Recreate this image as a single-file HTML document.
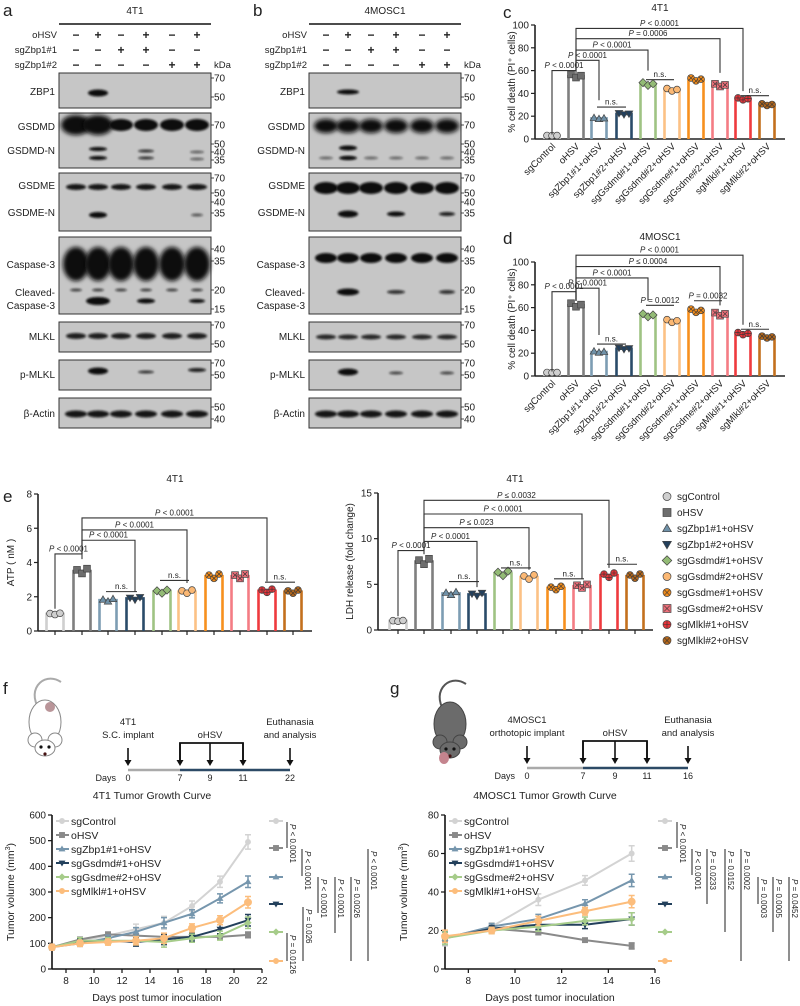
<!DOCTYPE html>
<html><head><meta charset="utf-8">
<style>
html,body{margin:0;padding:0;background:#fff;}
svg{display:block;font-family:"Liberation Sans",Arial,sans-serif;}
</style></head>
<body>
<svg id="fig" width="800" height="1006" viewBox="0 0 800 1006" xmlns="http://www.w3.org/2000/svg">
<defs>
<filter id="blur1" x="-50%" y="-100%" width="200%" height="300%"><feGaussianBlur stdDeviation="1.1"/></filter>
<filter id="blur2" x="-50%" y="-100%" width="200%" height="300%"><feGaussianBlur stdDeviation="2"/></filter>
</defs>
</svg>
<script>
// ===== bar chart data =====
const groupNames = ["sgControl","oHSV","sgZbp1#1+oHSV","sgZbp1#2+oHSV","sgGsdmd#1+oHSV","sgGsdmd#2+oHSV","sgGsdme#1+oHSV","sgGsdme#2+oHSV","sgMlkl#1+oHSV","sgMlkl#2+oHSV"];
const cDeath4T1 = [3,55,18,22,48,43,52,47,35,30];
const dDeath4MOSC1 = [3,62,21,24,53,48,57,54,37,34];
const eATP = [1.0,3.5,1.8,1.9,2.3,2.3,3.2,3.2,2.35,2.3];
const eLDH = [1.0,7.5,4.0,3.9,6.2,5.8,4.6,4.8,6.0,5.9];
const deathTicks = [0,20,40,60,80,100];
const atpTicks = [0,2,4,6,8];
const ldhTicks = [0,5,10,15];
// ===== tumor growth data =====
const lineGroups = ["sgControl","oHSV","sgZbp1#1+oHSV","sgGsdmd#1+oHSV","sgGsdme#2+oHSV","sgMlkl#1+oHSV"];
const fDays = [7,9,11,13,15,17,19,21];
const fControl = [85,110,130,155,180,245,340,495];
const fOHSV = [85,115,135,130,125,125,125,133];
const fZbp1 = [85,100,120,145,180,215,275,340];
const fGsdmd = [85,105,110,105,115,125,155,190];
const fGsdme = [85,110,110,110,105,120,130,180];
const fMlkl = [85,100,105,110,120,160,190,260];
const fErr = [12,15,15,20,25,20,22,28];
const gDays = [7,9,11,13,15];
const gControl = [16,22,36,46,60];
const gOHSV = [16,21,19,15,12];
const gZbp1 = [16,22,26,34,46];
const gGsdmd = [16,21,23,23,26];
const gGsdme = [16,20,22,25,26];
const gMlkl = [17,20,25,30,35];
const gErr = [4,2,3,2.5,4];
const fXTicks = [8,10,12,14,16,18,20,22];
const fYTicks = [0,100,200,300,400,500,600];
const gXTicks = [8,10,12,14,16];
const gYTicks = [0,20,40,60,80];

const NS="http://www.w3.org/2000/svg";
const svg=document.getElementById('fig');
function el(tag,attrs,parent,text){const e=document.createElementNS(NS,tag);for(const k in attrs)e.setAttribute(k,attrs[k]);if(text!==undefined)e.textContent=text;(parent||svg).appendChild(e);return e;}
function txt(x,y,s,size,parent,anchor,extra){const t=el('text',Object.assign({x:x,y:y,'font-size':size,'text-anchor':anchor||'start',fill:'#222'},extra||{}),parent,s);return t;}
const colors=["#cfcfcf","#7f7f7f","#7d9db3","#2a4b69","#9fc383","#fcc185","#f7901e","#f47c84","#ee3a3e","#c3701d"];
const mcolors=["#cfcfcf","#6e6e6e","#6f91a8","#23405c","#93bb75","#fbb874","#f08a1a","#ec6f79","#e8343a","#b3661a"];

// panel letters
[["a",3,16],["b",253,16],["c",503,18],["d",503,244],["e",3,502],["f",3,694],["g",390,694]].forEach(p=>{
 const t=txt(p[1],p[2],p[0],17,svg,'start');
 
 
});

// ===== Western blots =====
function blotPanel(ox,title,bands,kind){
 const g=el('g',{});
 
 
 const L=ox+59,R=ox+211;
 txt((L+R)/2,14,title,10,g,'middle');
 el('line',{x1:L,y1:24,x2:R,y2:24,stroke:'#111','stroke-width':1.5},g);
 const lanes=[76,98,121,146,172,197].map(v=>v+ox);
 const rows=[["oHSV",35,["−","+","−","+","−","+"]],["sgZbp1#1",50,["−","−","+","+","−","−"]],["sgZbp1#2",65,["−","−","−","−","+","+"]]];
 rows.forEach(r=>{txt(L-2,r[1]+3,r[0],9.5,g,'end');r[2].forEach((s,i)=>txt(lanes[i],r[1]+4,s,12,g,'middle',{'font-weight':'bold'}));});
 txt(R+3,68,"kDa",9.5,g,'start');
 const boxes=[
  {y1:73,y2:108,labels:[["ZBP1",95]],ticks:[[70,78],[50,97]]},
  {y1:113,y2:168,labels:[["GSDMD",130],["GSDMD-N",154]],ticks:[[70,125],[50,144],[40,152],[35,160]]},
  {y1:173,y2:231,labels:[["GSDME",189],["GSDME-N",216]],ticks:[[70,178],[50,193],[40,202],[35,213]]},
  {y1:237,y2:314,labels:[["Caspase-3",268],["Cleaved-",296],["Caspase-3",309]],ticks:[[40,249],[35,261],[20,290],[15,309]]},
  {y1:322,y2:352,labels:[["MLKL",340]],ticks:[[70,325],[50,344]]},
  {y1:360,y2:390,labels:[["p-MLKL",378]],ticks:[[70,363],[50,375]]},
  {y1:398,y2:428,labels:[["β-Actin",417]],ticks:[[50,407],[40,419]]}];
 boxes.forEach(b=>{
  el('rect',{x:L,y:b.y1,width:R-L,height:b.y2-b.y1,fill:'#c6c6c6',stroke:'#333','stroke-width':1},g);
  b.labels.forEach(l=>txt(L-4,l[1],l[0],10,g,'end'));
  b.ticks.forEach(t=>{el('line',{x1:R,y1:t[1],x2:R+3,y2:t[1],stroke:'#222','stroke-width':0.8},g);txt(R+3,t[1]+3.5,String(t[0]),10,g,'start');});
 });
 bands.forEach(bd=>{
  el('ellipse',{cx:lanes[bd[0]],cy:bd[1],rx:bd[2]/2,ry:bd[3]/2,fill:'#0c0c0c',opacity:bd[4],filter:bd[3]>12?'url(#blur2)':'url(#blur1)'},g);
 });
}
const bandsA=[[1,93,20,7,1]];
[0,1,2,3,4,5].forEach(i=>{bandsA.push([i,125,i<2?30:24,i<2?20:12,1]);bandsA.push([i,187,20,6,0.95]);bandsA.push([i,264,26,34,1]);bandsA.push([i,336,20,6,0.9]);bandsA.push([i,414,22,7,0.95]);bandsA.push([i,290,12,3,0.7]);});
bandsA.push([1,149,18,4,1],[1,158,18,4,1],[3,151,16,3,0.8],[3,158,16,3,0.8],[5,152,14,2.5,0.6],[5,159,14,2.5,0.6],
 [1,215,18,6,1],[5,215,12,3,0.6],[1,301,24,8,1],[3,301,18,5,1],[5,301,16,4,1],[1,371,20,7,1],[3,372,16,3,0.8],[5,370,18,4,0.9]);
blotPanel(0,"4T1",bandsA,'4t1');
const bandsB=[[1,92,22,5,1]];
[0,1,2,3,4,5].forEach(i=>{bandsB.push([i,126,24,14,1]);bandsB.push([i,188,24,12,1]);bandsB.push([i,258,22,10,1]);bandsB.push([i,337,20,5,0.85]);bandsB.push([i,414,22,7,0.95]);bandsB.push([i,158,14,3,0.5]);});
bandsB.push([1,148,18,5,1],[1,158,18,4,1],[1,214,20,7,1],[3,214,18,5,1],[5,214,16,4,0.9],[1,292,22,7,1],[3,292,18,4,0.8],[5,292,16,4,0.8],[1,372,20,7,1],[3,373,14,3,0.7],[5,373,14,3,0.7]);
blotPanel(250,"4MOSC1",bandsB,'4mosc1');

// ===== markers =====
function marker(g,type,x,y,s,fill,stroke){
 let e;
 switch(type){
  case 0: case 5: e=el('circle',{cx:x,cy:y,r:s},g);break;
  case 1: e=el('rect',{x:x-s,y:y-s,width:2*s,height:2*s},g);break;
  case 2: e=el('polygon',{points:`${x},${y-s*1.1} ${x-s*1.1},${y+s*0.8} ${x+s*1.1},${y+s*0.8}`},g);break;
  case 3: e=el('polygon',{points:`${x},${y+s*1.1} ${x-s*1.1},${y-s*0.8} ${x+s*1.1},${y-s*0.8}`},g);break;
  case 4: e=el('polygon',{points:`${x},${y-s*1.2} ${x-s*1.2},${y} ${x},${y+s*1.2} ${x+s*1.2},${y}`},g);break;
  case 6: case 8: case 9: e=el('circle',{cx:x,cy:y,r:s},g);break;
  case 7: e=el('rect',{x:x-s,y:y-s,width:2*s,height:2*s},g);break;
 }
 e.setAttribute('fill',fill);e.setAttribute('stroke',stroke);e.setAttribute('stroke-width',0.7);
 if(type===6||type===7||type===9){el('path',{d:`M${x-s*0.7},${y-s*0.7}L${x+s*0.7},${y+s*0.7}M${x-s*0.7},${y+s*0.7}L${x+s*0.7},${y-s*0.7}`,stroke:'#333','stroke-width':0.6},g);}
 if(type===8){el('path',{d:`M${x-s},${y}L${x+s},${y}M${x},${y-s}L${x},${y+s}`,stroke:'#333','stroke-width':0.6},g);}
 return e;
}

// ===== bar chart =====
function barChart(o){
 const g=el('g',{});
 
 
 const y=v=>o.y0-(v-0)*(o.y0-o.yTop)/o.max;
 const x=i=>o.xs[i];
 el('line',{x1:o.ax,y1:o.yTop,x2:o.ax,y2:o.y0,stroke:'#222','stroke-width':1.6},g);
 el('line',{x1:o.ax,y1:o.y0,x2:o.axEnd,y2:o.y0,stroke:'#222','stroke-width':1.6},g);
 o.ticks.forEach(t=>{el('line',{x1:o.ax-4,y1:y(t),x2:o.ax,y2:y(t),stroke:'#222','stroke-width':1.2},g);txt(o.ax-6,y(t)+3.5,String(t),10,g,'end');});
 if(o.title) txt(o.titleX,o.titleY,o.title,10,g,'middle');
 txt(0,0,o.ylabel,10,g,'middle',{transform:`translate(${o.ylx},${(o.yTop+o.y0)/2}) rotate(-90)`});
 o.vals.forEach((v,i)=>{
  const bw=o.bw;
  const bar=el('path',{d:`M${x(i)-bw/2},${o.y0}L${x(i)-bw/2},${y(v)}L${x(i)+bw/2},${y(v)}L${x(i)+bw/2},${o.y0}`,fill:'none',stroke:colors[i],'stroke-width':2.6},g);
  
  
  if(o.xticks) el('line',{x1:x(i),y1:o.y0,x2:x(i),y2:o.y0+4,stroke:'#222','stroke-width':1.2},g);
  const offs=[-5,0,5],jit=o.jit||[0.03,-0.02,0.01];
  offs.forEach((d,k)=>marker(g,i,x(i)+d,y(v*(1+jit[k])),3.4,mcolors[i],'#444'));
  if(o.xlabels){txt(0,0,groupNames[i],9.5,g,'end',{transform:`translate(${x(i)+4},${o.y0+8}) rotate(-45)`});}
 });
 (o.sig||[]).forEach(s=>{
  const yl2=y(s[2]);
  el('path',{d:`M${x(s[0])},${y(s[4]!==undefined?s[4]:o.vals[s[0]]+2)}L${x(s[0])},${yl2}L${x(s[1])},${yl2}L${x(s[1])},${y(s[5]!==undefined?s[5]:o.vals[s[1]]+4)}`,fill:'none',stroke:'#333','stroke-width':1.1},g);
  const t=txt((x(s[0])+x(s[1]))/2,yl2-2.5,'',8,g,'middle');
  if(s[3].startsWith('P')){el('tspan',{'font-style':'italic'},t,'P');el('tspan',{},t,s[3].slice(1));}else t.textContent=s[3];
 });
 (o.ns||[]).forEach(s=>{
  const yl2=y(s[2]);
  el('line',{x1:x(s[0])-2,y1:yl2,x2:x(s[1])+2,y2:yl2,stroke:'#333','stroke-width':1.1},g);
  const t=txt((x(s[0])+x(s[1]))/2,yl2-2.5,'',8,g,'middle');
  if(s[3].startsWith('P')){el('tspan',{'font-style':'italic'},t,'P');el('tspan',{},t,s[3].slice(1));}else t.textContent=s[3];
 });
}
const cxs=[552,576,599,624,648,672,696,720,743,767];
barChart({name:'chart-c-4t1-cell-death',vals:cDeath4T1,ticks:deathTicks,max:100,y0:139,yTop:25,ax:535,axEnd:785,xs:cxs,bw:15,title:'4T1',titleX:660,titleY:11,ylabel:'% cell death (PI⁺ cells)',ylx:515,xlabels:true,
 sig:[[0,1,60,'P < 0.0001',4,57],[1,2,69,'P < 0.0001',60,34],[1,4,78,'P < 0.0001',60,60],[1,7,88,'P = 0.0006',60,58],[1,8,97,'P < 0.0001',60,42]],
 ns:[[2,3,28,'n.s.'],[4,5,52,'n.s.'],[8,9,38,'n.s.']]});
barChart({name:'chart-d-4mosc1-cell-death',vals:dDeath4MOSC1,ticks:deathTicks,max:100,y0:376,yTop:262,ax:535,axEnd:785,xs:cxs,bw:15,title:'4MOSC1',titleX:660,titleY:240,ylabel:'% cell death (PI⁺ cells)',ylx:515,xlabels:true,
 sig:[[0,1,74,'P < 0.0001',4,66],[1,2,77,'P < 0.0001',66,36],[1,4,86,'P < 0.0001',66,66],[1,7,96,'P ≤ 0.0004',66,62],[1,8,106,'P < 0.0001',66,45]],
 ns:[[2,3,28,'n.s.'],[4,5,62,'P = 0.0012'],[6,7,66,'P = 0.0032'],[8,9,41,'n.s.']]});
barChart({name:'chart-e-atp',vals:eATP,ticks:atpTicks,max:8,y0:631,yTop:494,ax:38,axEnd:312,xs:[55,82,108,135,162,187,214,240,267,293],bw:17,title:'4T1',titleX:175,titleY:482,ylabel:'ATP ( nM )',ylx:14,xticks:true,jit:[0.02,-0.04,0.04],
 sig:[[0,1,4.5,'P < 0.0001',1.3,4.2],[1,3,5.3,'P < 0.0001',4.5,2.3],[1,5,5.9,'P < 0.0001',4.5,2.8],[1,8,6.6,'P < 0.0001',4.5,2.9]],
 ns:[[2,3,2.3,'n.s.'],[4,5,2.95,'n.s.'],[8,9,2.85,'n.s.']]});
barChart({name:'chart-e-ldh',vals:eLDH,ticks:ldhTicks,max:15,y0:630,yTop:493,ax:378,axEnd:653,xs:[398,424,451,477,503,529,556,582,609,635],bw:17,title:'4T1',titleX:515,titleY:482,ylabel:'LDH release (fold change)',ylx:353,xticks:true,jit:[0.02,-0.04,0.04],
 sig:[[0,1,8.7,'P < 0.0001',1.5,8.3],[1,3,9.7,'P < 0.0001',8.7,4.7],[1,5,11.2,'P ≤ 0.023',8.7,6.6],[1,7,12.7,'P < 0.0001',8.7,5.6],[1,8,14.2,'P ≤ 0.0032',8.7,6.8]],
 ns:[[2,3,5.3,'n.s.'],[4,5,6.8,'n.s.'],[6,7,5.6,'n.s.'],[8,9,7.2,'n.s.']]});

// legend e
const lg=el('g',{});


groupNames.forEach((n,i)=>{
 const yy=500+i*16;
 const it=el('g',{},lg);
 
 
 marker(it,i,667,yy-3.5,4,mcolors[i],'#444');
 txt(677,yy,n,10,it,'start');
});

// ===== timelines / mice =====
function mouse(cx,cy,body,stroke,name){
 const g=el('g',{});
 
 
 el('path',{d:`M${cx-2},${cy-8} C${cx-22},${cy-30} ${cx-2},${cy-52} ${cx+16},${cy-40}`,fill:'none',stroke:body==='#fff'?'#aaa':'#555','stroke-width':2},g);
 el('ellipse',{cx:cx,cy:cy,rx:16,ry:22,fill:body,stroke:stroke,'stroke-width':1},g);
 el('circle',{cx:cx-10,cy:cy+18,r:7,fill:body,stroke:stroke},g);
 el('circle',{cx:cx+10,cy:cy+18,r:7,fill:body,stroke:stroke},g);
 el('ellipse',{cx:cx,cy:cy+26,rx:10,ry:8,fill:body,stroke:stroke},g);
 el('circle',{cx:cx-4,cy:cy+25,r:1.6,fill:'#111'},g);el('circle',{cx:cx+4,cy:cy+25,r:1.6,fill:'#111'},g);
 el('circle',{cx:cx,cy:cy+32,r:1.6,fill:'#411'},g);
 return g;
}
const m1=mouse(45,722,'#fff','#888','mouse-4t1');
el('circle',{cx:50,cy:707,r:5,fill:'#a87a80',opacity:0.8},m1);
const m2=mouse(450,724,'#6b6b6b','#444','mouse-4mosc1');
el('ellipse',{cx:444,cy:758,rx:5,ry:6,fill:'#c4848e'},m2);
function arrow(g,x,y1,y2){el('line',{x1:x,y1:y1,x2:x,y2:y2-4,stroke:'#111','stroke-width':1.6},g);el('polygon',{points:`${x-3.5},${y2-6} ${x+3.5},${y2-6} ${x},${y2}`,fill:'#111'},g);}
function timeline(o){
 const g=el('g',{});
 
 
 el('line',{x1:o.x0,y1:o.ty,x2:o.x7,y2:o.ty,stroke:'#aaa','stroke-width':2.5},g);
 el('line',{x1:o.x7,y1:o.ty,x2:o.xe,y2:o.ty,stroke:'#2d4a66','stroke-width':2.5},g);
 arrow(g,o.x0,o.ty-22,o.ty-4);
 el('path',{d:`M${o.x7},${o.ty-6}L${o.x7},${o.ty-27}L${o.x11},${o.ty-27}L${o.x11},${o.ty-6}`,fill:'none',stroke:'#111','stroke-width':1.8},g);
 arrow(g,o.x7,o.ty-27,o.ty-4);arrow(g,o.x9,o.ty-27,o.ty-4);arrow(g,o.x11,o.ty-27,o.ty-4);
 arrow(g,o.xe,o.ty-22,o.ty-4);
 txt(o.x0,o.ty-45,o.l1,9.5,g,'middle');txt(o.x0,o.ty-32,o.l2,9.5,g,'middle');
 txt(o.x9,o.ty-32,'oHSV',9.5,g,'middle');
 txt(o.xe,o.ty-45,'Euthanasia',9.5,g,'middle');txt(o.xe,o.ty-32,'and analysis',9.5,g,'middle');
 txt(o.x0-12,o.ty+11,'Days',9,g,'end');
 [[o.x0,'0'],[o.x7,'7'],[o.x9,'9'],[o.x11,'11'],[o.xe,o.last]].forEach(d=>txt(d[0],o.ty+11,d[1],9,g,'middle'));
}
timeline({name:'timeline-f',x0:128,x7:180,x9:210,x11:243,xe:290,ty:770,l1:'4T1',l2:'S.C. implant',last:'22'});
timeline({name:'timeline-g',x0:527,x7:583,x9:615,x11:647,xe:688,ty:768,l1:'4MOSC1',l2:'orthotopic implant',last:'16'});

// ===== line charts =====
function lineChart(o){
 const g=el('g',{});
 
 
 const X=d=>o.ax+(d-o.dmin)*(o.axEnd-o.ax)/(o.dmax-o.dmin);
 const Y=v=>o.y0-v*(o.y0-o.yTop)/o.vmax;
 txt((o.ax+o.axEnd)/2-5,799,o.title,10.5,g,'middle');
 el('line',{x1:o.ax,y1:o.yTop,x2:o.ax,y2:o.y0,stroke:'#111','stroke-width':1.6},g);
 el('line',{x1:o.ax,y1:o.y0,x2:o.axEnd,y2:o.y0,stroke:'#111','stroke-width':1.6},g);
 o.yticks.forEach(t=>{el('line',{x1:o.ax-4,y1:Y(t),x2:o.ax,y2:Y(t),stroke:'#111','stroke-width':1.2},g);txt(o.ax-6,Y(t)+3.5,String(t),10,g,'end');});
 o.xticks.forEach(t=>{el('line',{x1:X(t),y1:o.y0,x2:X(t),y2:o.y0+4,stroke:'#111','stroke-width':1.2},g);txt(X(t),o.y0+15,String(t),10,g,'middle');});
 txt((o.ax+o.axEnd)/2,1001,'Days post tumor inoculation',10.5,g,'middle');
 const yl=txt(0,0,'',10.5,g,'middle',{transform:`translate(${o.ax-38},${(o.yTop+o.y0)/2}) rotate(-90)`});
 yl.textContent='Tumor volume (mm';el('tspan',{dy:-4,'font-size':7},yl,'3');el('tspan',{dy:4},yl,')');
 const lc=["#d3d3d3","#8a8a8a","#7696ad","#23405c","#a6cc8a","#fcbd7c"];
 const mk=[0,1,2,3,4,0];
 o.series.forEach((s,si)=>{
  const sg=el('g',{},g);
  
  
  s.forEach((v,k)=>{const e=o.err[k]*(si===1?0.4:(si===0?1:0.8));const x=X(o.days[k]);
   el('path',{d:`M${x},${Y(v-e)}L${x},${Y(v+e)}M${x-3},${Y(v-e)}L${x+3},${Y(v-e)}M${x-3},${Y(v+e)}L${x+3},${Y(v+e)}`,stroke:lc[si],'stroke-width':1.5},sg);});
  el('polyline',{points:s.map((v,k)=>X(o.days[k])+','+Y(v)).join(' '),fill:'none',stroke:lc[si],'stroke-width':2},sg);
  s.forEach((v,k)=>marker(sg,mk[si],X(o.days[k]),Y(v),si===5?3.6:2.6,lc[si],lc[si]));
  const ly=o.yTop+6+si*14;
  el('line',{x1:o.ax+4,y1:ly,x2:o.ax+17,y2:ly,stroke:lc[si],'stroke-width':2},sg);
  marker(sg,mk[si],o.ax+10,ly,2.6,lc[si],lc[si]);
  txt(o.ax+19,ly+4,lineGroups[si],10.5,sg,'start');
  const ry=[821,848,877,904,932,961][si];
  el('line',{x1:o.rx-7,y1:ry,x2:o.rx+7,y2:ry,stroke:lc[si],'stroke-width':2},sg);
  marker(sg,mk[si],o.rx,ry,2.6,lc[si],lc[si]);
 });
 o.pv.forEach(p=>{
  el('line',{x1:p[0],y1:p[1],x2:p[0],y2:p[2],stroke:'#333','stroke-width':1.1},g);
  const t=txt(0,0,'',8,g,'start',{transform:`translate(${p[0]+3},${p[1]+2}) rotate(90)`});
  el('tspan',{'font-style':'italic'},t,'P');el('tspan',{},t,p[3].slice(1));
 });
}
lineChart({name:'chart-f-4t1-tumor-growth',title:'4T1 Tumor Growth Curve',ax:52,axEnd:262,dmin:7,dmax:22,y0:969,yTop:815,vmax:600,yticks:fYTicks,xticks:fXTicks,days:fDays,
 series:[fControl,fOHSV,fZbp1,fGsdmd,fGsdme,fMlkl],err:fErr,rx:276,
 pv:[[287,822,848,'P < 0.0001'],[302,849,876,'P < 0.0001'],[318,877,913,'P < 0.0001'],[335,877,933,'P < 0.0001'],[351,877,961,'P = 0.0026'],[368,849,961,'P < 0.0001'],[303,907,961,'P = 0.026'],[287,933,961,'P = 0.0126']]});
lineChart({name:'chart-g-4mosc1-tumor-growth',title:'4MOSC1 Tumor Growth Curve',ax:445,axEnd:655,dmin:7,dmax:16,y0:969,yTop:815,vmax:80,yticks:gYTicks,xticks:gXTicks,days:gDays,
 series:[gControl,gOHSV,gZbp1,gGsdmd,gGsdme,gMlkl],err:gErr,rx:665,
 pv:[[677,822,848,'P < 0.0001'],[692,849,875,'P < 0.0001'],[707,849,904,'P = 0.0233'],[725,849,932,'P = 0.0152'],[741,849,961,'P = 0.0002'],[758,877,904,'P = 0.0003'],[773,877,932,'P = 0.0005'],[789,877,961,'P = 0.0452']]});
</script>
</body></html>
